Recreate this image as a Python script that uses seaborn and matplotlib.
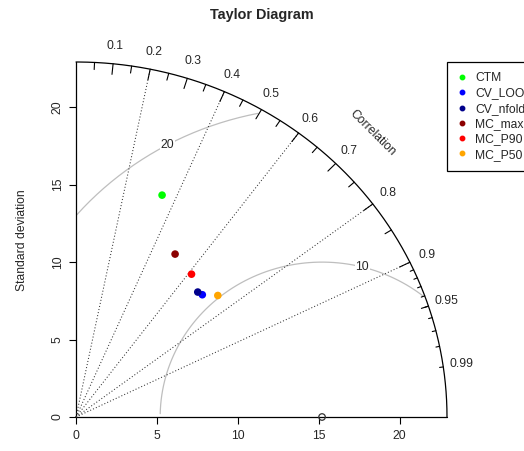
import numpy as np
import pandas as pd
import matplotlib
matplotlib.use("Agg")
import matplotlib.pyplot as plt
import seaborn as sns

sns.set_theme(style="white")
plt.rcParams['font.family'] = ['Liberation Sans', 'DejaVu Sans']

# Model results (standard deviation and correlation)
models = ["CTM", "CV_LOO", "CV_nfold", "MC_max", "MC_P90", "MC_P50"]
sd_values = [15.28, 11.10, 11.03, 12.17, 11.66, 11.76]
corr_values = [0.348, 0.703, 0.682, 0.503, 0.612, 0.745]
model_colors = ["#00FF00", "#0000FF", "#00008B", "#8B0000", "#FF0000", "#FFA500"]

# reference (observed) standard deviation
ref_sd = 15.2
rms_levels = [10, 20]
corr_lines = [0.2, 0.4, 0.6, 0.8, 0.9]
corr_labels = [0.1, 0.2, 0.3, 0.4, 0.5, 0.6, 0.7, 0.8, 0.9, 0.95, 0.99]
sd_ticks = [0, 5, 10, 15, 20]

maxsd = 1.5 * max(max(sd_values), ref_sd)

df = pd.DataFrame({"model": models, "sd": sd_values, "corr": corr_values})
df["x"] = df["sd"] * df["corr"]
df["y"] = df["sd"] * np.sqrt(1 - df["corr"] ** 2)

W, H = 524, 451
fig = plt.figure(figsize=(W / 100, H / 100), dpi=100)
ax = fig.add_axes([76 / W, (H - 417) / H, 371 / W, 355 / H])
ax.set_xlim(0, maxsd)
ax.set_ylim(0, maxsd)
for s in ax.spines.values():
    s.set_visible(False)

fs = 8.7
ax.set_xticks(sd_ticks)
ax.set_yticks(sd_ticks)
ax.tick_params(axis="both", direction="out", length=5.2, width=0.8, color="black",
               labelsize=fs, bottom=True, left=True)
ax.tick_params(axis="x", pad=4.5)
ax.tick_params(axis="y", pad=3.5)
for lab in ax.get_yticklabels():
    lab.set_rotation(90)
    lab.set_va("center")

# axes lines
ax.plot([0, maxsd], [0, 0], color="black", lw=0.9, clip_on=False)
ax.plot([0, 0], [0, maxsd], color="black", lw=0.9, clip_on=False)

# outer arc
t = np.linspace(0, np.pi / 2, 200)
ax.plot(np.cos(t) * maxsd, np.sin(t) * maxsd, color="black", lw=0.9, clip_on=False)

# correlation lines
for c in corr_lines:
    ax.plot([0, maxsd * c], [0, maxsd * np.sqrt(1 - c ** 2)], color="#333333",
            lw=0.75, ls=(0, (1, 2)), clip_on=False)

# tick marks on the arc
def arc_ticks(vals, inner):
    a = np.arccos(np.array(vals))
    for ang in a:
        ax.plot([np.cos(ang) * maxsd, np.cos(ang) * inner * maxsd],
                [np.sin(ang) * maxsd, np.sin(ang) * inner * maxsd],
                color="black", lw=0.8, clip_on=False)

arc_ticks(np.arange(0.1, 0.91, 0.1), 0.97)
arc_ticks(np.arange(0.05, 0.96, 0.1), 0.98)
arc_ticks(np.arange(0.91, 0.995, 0.01), 0.99)

for c in corr_labels:
    ang = np.arccos(c)
    ax.text(np.cos(ang) * 1.05 * maxsd, np.sin(ang) * 1.05 * maxsd, f"{c:g}",
            ha="center", va="center", fontsize=fs, clip_on=False)
ax.text(0.8 * maxsd, 0.8 * maxsd, "Correlation", rotation=-45, ha="center",
        va="center", fontsize=fs)

# centred RMS difference arcs
theta = np.arange(0, np.pi, 0.03)
label_idx = np.linspace(45, 70, len(rms_levels)).astype(int) - 1
for g, li in zip(rms_levels, label_idx):
    xc = np.cos(theta) * g + ref_sd
    yc = np.sin(theta) * g
    keep = (xc >= 0) & (xc ** 2 + yc ** 2 <= maxsd ** 2)
    ax.plot(xc[keep], yc[keep], color="#BEBEBE", lw=0.9, zorder=1)
    ax.text(xc[li], yc[li], str(g), ha="center", va="center", fontsize=fs,
            bbox=dict(facecolor="white", edgecolor="none", pad=0.5), zorder=2)

# reference point
ax.scatter([ref_sd], [0], s=22, facecolor="none", edgecolor="#333333", lw=0.9,
           clip_on=False, zorder=4)

sns.scatterplot(data=df, x="x", y="y", hue="model", palette=model_colors,
                s=30, edgecolor="none", ax=ax, zorder=5, legend=False)
ax.set_xlabel("")
ax.set_ylabel("")

handles = [plt.Line2D([], [], ls="none", marker="o", color=c, markersize=3.2)
           for c in model_colors]
leg = ax.legend(handles, models, loc="upper left", bbox_to_anchor=(1.0, 1.0),
                borderaxespad=0, fontsize=fs, frameon=True, fancybox=False,
                handlelength=0.8, handletextpad=0.7, labelspacing=0.27,
                borderpad=0.85)
leg.get_frame().set_edgecolor("black")
leg.get_frame().set_linewidth(0.9)
leg.get_frame().set_alpha(1)

fig.text(262 / W, 1 - 15 / H, "Taylor Diagram", ha="center", va="center",
         fontsize=10.4, fontweight="bold")
fig.text(22 / W, 1 - 240 / H, "Standard deviation", ha="center", va="center",
         rotation=90, fontsize=fs)

fig.savefig("out.png", dpi=100)
